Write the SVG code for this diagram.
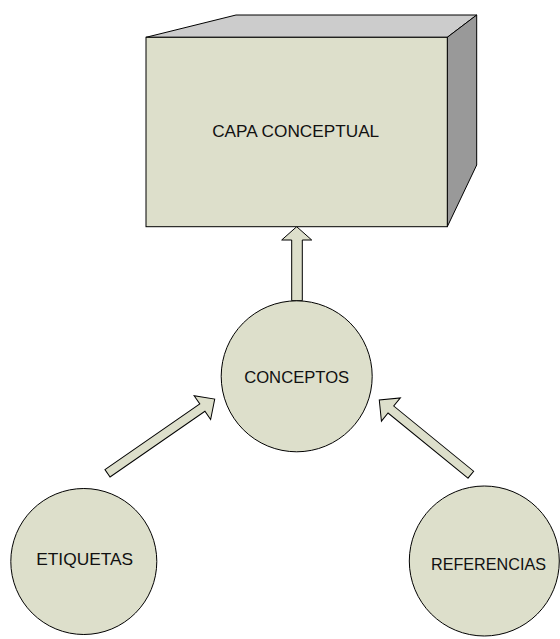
<svg xmlns="http://www.w3.org/2000/svg" width="560" height="639" viewBox="0 0 560 639">
<defs>
<style>
.shape{fill:#dddfcb;stroke:#000;stroke-width:1}
.lbl{font-family:"Liberation Sans",Arial,sans-serif;font-size:17px;fill:#111;text-anchor:middle}
.arrow{fill:#dddfcb;stroke:#000;stroke-width:1;stroke-linejoin:miter}
</style>
</defs>
<rect width="560" height="639" fill="#fff"/>
<g id="connectors">
<polygon class="arrow" points="296.7,226.7 311.7,240 302.3,240 302.3,300.7 291.7,300.7 291.7,240 281.7,240"/>
<path class="arrow" transform="translate(107.5,473.3) rotate(-34.7)" d="M0,-4.5 L115.4,-4.5 L115.4,-14.5 L130.4,0 L115.4,14.5 L115.4,4.5 L0,4.5 Z"/>
<path class="arrow" transform="translate(470.8,474.7) rotate(-140.8)" d="M0,-4.5 L103.1,-4.5 L103.1,-15 L118.1,0 L103.1,15 L103.1,4.5 L0,4.5 Z"/>
</g>
<g id="capa-conceptual">
<polygon points="146,37.3 236,15 476.7,15 447.3,37.3" fill="#cccccc" stroke="#000" stroke-width="1"/>
<polygon points="447.3,37.3 476.7,15 476.7,165 447.3,226.7" fill="#999999" stroke="#000" stroke-width="1"/>
<rect class="shape" x="146" y="37.3" width="301.3" height="189.4"/>
<text class="lbl" x="295.7" y="137" textLength="167" lengthAdjust="spacingAndGlyphs">CAPA CONCEPTUAL</text>
</g>
<g id="conceptos">
<circle class="shape" cx="296.7" cy="376.3" r="75.5"/>
<text class="lbl" x="296.7" y="382.7" textLength="105" lengthAdjust="spacingAndGlyphs">CONCEPTOS</text>
</g>
<g id="etiquetas">
<circle class="shape" cx="83.8" cy="561.5" r="73"/>
<text class="lbl" x="84.7" y="565" textLength="97" lengthAdjust="spacingAndGlyphs">ETIQUETAS</text>
</g>
<g id="referencias">
<circle class="shape" cx="484.3" cy="561" r="75"/>
<text class="lbl" x="488.5" y="570" textLength="115" lengthAdjust="spacingAndGlyphs">REFERENCIAS</text>
</g>
</svg>
